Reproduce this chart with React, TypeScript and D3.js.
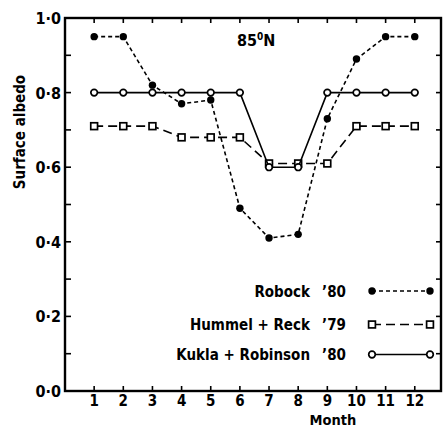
import React from "react";
import * as d3 from "d3";

const months = [1, 2, 3, 4, 5, 6, 7, 8, 9, 10, 11, 12];
const robock = [0.95, 0.95, 0.82, 0.77, 0.78, 0.49, 0.41, 0.42, 0.73, 0.89, 0.95, 0.95];
const hummelReck = [0.71, 0.71, 0.71, 0.68, 0.68, 0.68, 0.61, 0.61, 0.61, 0.71, 0.71, 0.71];
const kuklaRobinson = [0.8, 0.8, 0.8, 0.8, 0.8, 0.8, 0.6, 0.6, 0.8, 0.8, 0.8, 0.8];
const yTickLabels = ["0·0", "0·2", "0·4", "0·6", "0·8", "1·0"];
const legendNames = ["Robock", "Hummel + Reck", "Kukla + Robinson"];
const legendYears = ["’80", "’79", "’80"];

const W = 443;
const H = 429;
const FONT = "'DejaVu Sans Condensed', 'DejaVu Sans', sans-serif";

const series = [
  { values: robock, dash: "4,3", marker: "filled" },
  { values: hummelReck, dash: "9,5", marker: "square" },
  { values: kuklaRobinson, dash: null, marker: "open" },
];

function Marker({ type, x, y }: { type: string; x: number; y: number }) {
  if (type === "filled") return <circle cx={x} cy={y} r={3.7} fill="#000" />;
  if (type === "square")
    return <rect x={x - 3.4} y={y - 3.4} width={6.8} height={6.8} fill="#fff" stroke="#000" strokeWidth={1.7} />;
  return <circle cx={x} cy={y} r={3.3} fill="#fff" stroke="#000" strokeWidth={1.7} />;
}

export default function App() {
  const x = d3.scaleLinear().domain([0, 12.9]).range([65, 441]);
  const y = d3.scaleLinear().domain([0, 1]).range([391, 18]);
  const line = d3
    .line<number>()
    .x((d, i) => x(months[i]))
    .y((d) => y(d));

  const yTicks = d3.range(0, 11).map((i) => i / 10);

  return (
    <svg
      width={W}
      height={H}
      style={{ position: "absolute", left: 0, top: 0 }}
      fontFamily={FONT}
      fontWeight="bold"
    >
      <rect width={W} height={H} fill="#fff" />

      {/* ticks */}
      {yTicks.map((t) => (
        <g key={"yt" + t}>
          <line x1={x(0)} x2={x(0) + 6} y1={y(t)} y2={y(t)} stroke="#000" strokeWidth={1.6} />
          <line x1={x(12.9)} x2={x(12.9) - 5} y1={y(t)} y2={y(t)} stroke="#000" strokeWidth={1.6} />
        </g>
      ))}
      {months.map((m) => (
        <g key={"xt" + m}>
          <line x1={x(m)} x2={x(m)} y1={y(0)} y2={y(0) - 5} stroke="#000" strokeWidth={1.6} />
          <line x1={x(m)} x2={x(m)} y1={y(1)} y2={y(1) + 5} stroke="#000" strokeWidth={1.6} />
          <text x={x(m)} y={406} textAnchor="middle" fontSize={15}>
            {m}
          </text>
        </g>
      ))}
      {yTickLabels.map((lab, i) => (
        <text key={lab} x={61} y={y(i * 0.2) + 6} textAnchor="end" fontSize={16}>
          {lab}
        </text>
      ))}

      {/* frame */}
      <rect x={x(0)} y={y(1)} width={x(12.9) - x(0)} height={y(0) - y(1)} fill="none" stroke="#000" strokeWidth={2.4} />

      {/* series */}
      {series.map((s, si) => (
        <g key={"s" + si}>
          <path
            d={line(s.values) || ""}
            fill="none"
            stroke="#000"
            strokeWidth={1.6}
            strokeDasharray={s.dash || undefined}
          />
          {s.values.map((v, i) => (
            <Marker key={i} type={s.marker} x={x(months[i])} y={y(v)} />
          ))}
        </g>
      ))}

      {/* legend */}
      {series.map((s, i) => {
        const ly = [291, 324.5, 354.5][i];
        return (
          <g key={"lg" + i}>
            <text x={310} y={ly + 5.5} textAnchor="end" fontSize={15}>
              {legendNames[i]}
            </text>
            <text x={322} y={ly + 5.5} fontSize={15}>
              {legendYears[i]}
            </text>
            <line x1={372} x2={430} y1={ly} y2={ly} stroke="#000" strokeWidth={1.6} strokeDasharray={s.dash || undefined} />
            <Marker type={s.marker} x={372} y={ly} />
            <Marker type={s.marker} x={430} y={ly} />
          </g>
        );
      })}

      {/* labels */}
      <text x={237} y={46} fontSize={16}>
        85
        <tspan dy={-6} fontSize={10}>0</tspan>
        <tspan dy={6}>N</tspan>
      </text>
      <text x={333} y={424.5} textAnchor="middle" fontSize={14.5}>
        Month
      </text>
      <text transform="translate(25,132) rotate(-90)" textAnchor="middle" fontSize={15}>
        Surface albedo
      </text>
    </svg>
  );
}
